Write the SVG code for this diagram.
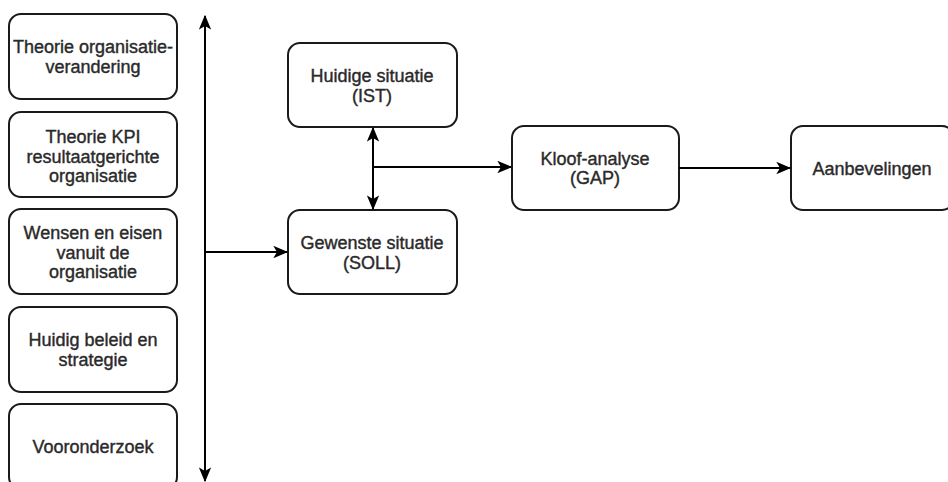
<svg xmlns="http://www.w3.org/2000/svg" width="948" height="482" viewBox="0 0 948 482">
<style>
.box{fill:#fff;stroke:#1a1a1a;stroke-width:2}
.t{font-family:"Liberation Sans",Arial,sans-serif;font-size:18px;fill:#2a2a2a;stroke:#2a2a2a;stroke-width:0.4;text-anchor:middle}
.c{fill:none;stroke:#000;stroke-width:2}
</style>
<defs>
<marker id="ah" viewBox="0 0 12 10" refX="11" refY="5" markerWidth="15" markerHeight="12.5" markerUnits="userSpaceOnUse" orient="auto-start-reverse">
<path d="M0,0 L12,5 L0,10 L3,5 Z" fill="#000"/>
</marker>
</defs>
<rect width="948" height="482" fill="#fff"/>
<g id="n1"><rect class="box" x="9" y="14" width="168" height="85" rx="12"/>
<text class="t" x="93" y="53">Theorie organisatie-</text><text class="t" x="93" y="73">verandering</text></g>
<g id="n2"><rect class="box" x="9" y="112" width="168" height="85" rx="12"/>
<text class="t" x="93" y="143">Theorie KPI</text><text class="t" x="93" y="163">resultaatgerichte</text><text class="t" x="93" y="182">organisatie</text></g>
<g id="n3"><rect class="box" x="9" y="209" width="168" height="85" rx="12"/>
<text class="t" x="93" y="239">Wensen en eisen</text><text class="t" x="93" y="259">vanuit de</text><text class="t" x="93" y="278">organisatie</text></g>
<g id="n4"><rect class="box" x="9" y="307" width="168" height="85" rx="12"/>
<text class="t" x="93" y="346">Huidig beleid en</text><text class="t" x="93" y="366">strategie</text></g>
<g id="n5"><rect class="box" x="9" y="404" width="168" height="85" rx="12"/>
<text class="t" x="93" y="453">Vooronderzoek</text></g>
<g id="n6"><rect class="box" x="288" y="43" width="169" height="84" rx="12"/>
<text class="t" x="372" y="82">Huidige situatie</text><text class="t" x="372" y="102">(IST)</text></g>
<g id="n7"><rect class="box" x="288" y="210" width="169" height="84" rx="12"/>
<text class="t" x="372" y="249">Gewenste situatie</text><text class="t" x="372" y="269">(SOLL)</text></g>
<g id="n8"><rect class="box" x="512" y="126" width="167" height="84" rx="12"/>
<text class="t" x="595" y="165">Kloof-analyse</text><text class="t" x="595" y="184">(GAP)</text></g>
<g id="n9"><rect class="box" x="791" y="126" width="163" height="84" rx="12"/>
<text class="t" x="872" y="175">Aanbevelingen</text></g>
<g id="connectors">
<line class="c" x1="205" y1="481" x2="205" y2="16" marker-start="url(#ah)" marker-end="url(#ah)"/>
<line class="c" x1="205" y1="252" x2="287" y2="252" marker-end="url(#ah)"/>
<line class="c" x1="373" y1="128" x2="373" y2="209" marker-start="url(#ah)" marker-end="url(#ah)"/>
<line class="c" x1="373" y1="167" x2="511" y2="167" marker-end="url(#ah)"/>
<line class="c" x1="679" y1="168" x2="790" y2="168" marker-end="url(#ah)"/>
</g>
</svg>
